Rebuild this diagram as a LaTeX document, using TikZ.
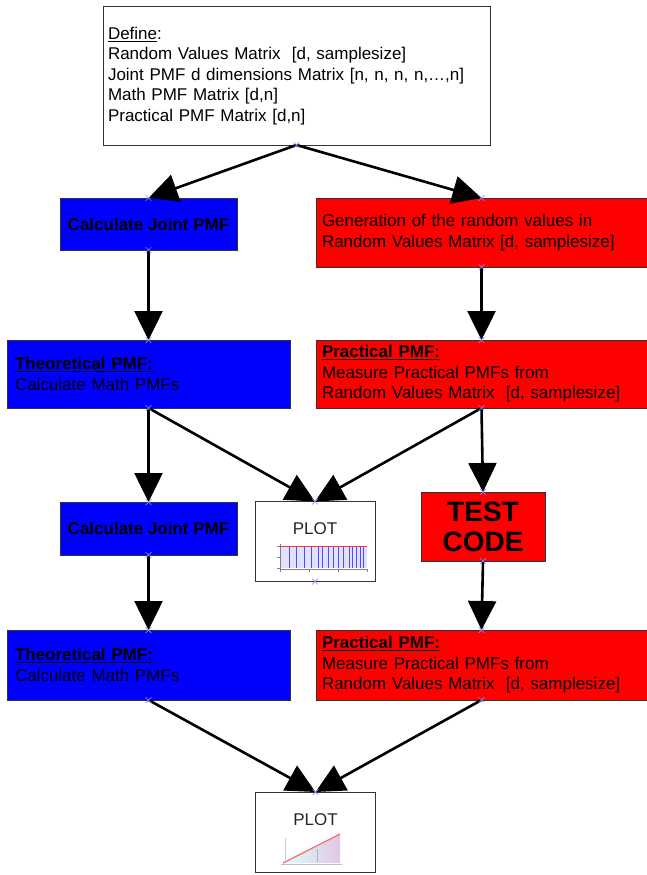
\documentclass[tikz,border=0pt]{standalone}
\usepackage{fontspec}
\setmainfont{Liberation Sans}
\usetikzlibrary{arrows.meta,shapes.misc}

\begin{document}
\begin{tikzpicture}[x=1pt, y=-1pt,
  box/.style={draw=black!80, line width=0.8pt, inner sep=0pt, outer sep=0pt, font=\fontsize{17}{20.5}\selectfont},
  bluebox/.style={box, fill=blue},
  redbox/.style={box, fill=red},
  plotbox/.style={box, fill=white, minimum width=120pt, minimum height=80pt},
  plotlabel/.style={inner sep=0pt, font=\fontsize{17}{20.5}\selectfont, text=black!85},
  flow/.style={line width=2.6pt, -{Triangle[width=28pt,length=29pt]}},
  cpt/.style={cross out, draw=blue!45, line width=0.7pt, minimum size=5pt, inner sep=0pt}]

  \useasboundingbox (0,0) rectangle (647,875);

  % -- Definitions --
  \node[box, line width=1pt, minimum width=387pt, minimum height=138pt, text width=377pt, align=left] (define) at (296.5,76)
    {\underline{Define}:\\ Random Values Matrix~ [d, samplesize]\\ Joint PMF d dimensions Matrix [n, n, n, n,\dots,n]\\ Math PMF Matrix [d,n]\\ Practical PMF Matrix [d,n]};

  % -- Math branch --
  \node[bluebox, minimum width=177pt, minimum height=52pt] (joint1) at (148.5,224) {\textbf{Calculate Joint PMF}};
  \node[bluebox, minimum width=283pt, minimum height=68pt, text width=267pt, align=left] (theo1) at (148.5,374)
    {\underline{\textbf{Theoretical PMF:}}\\ Calculate Math PMFs};
  \node[bluebox, minimum width=177pt, minimum height=53pt] (joint2) at (148.5,528.5) {\textbf{Calculate Joint PMF}};
  \node[bluebox, minimum width=283pt, minimum height=70pt, text width=267pt, align=left] (theo2) at (148.5,665)
    {\underline{\textbf{Theoretical PMF:}}\\ Calculate Math PMFs};

  % -- Practical branch --
  \node[redbox, minimum width=331pt, minimum height=69pt, text width=319pt, align=left] (gen) at (481.5,232.5)
    {Generation of the random values in\\ Random Values Matrix [d, samplesize]};
  \node[redbox, minimum width=331pt, minimum height=68pt, text width=319pt, align=left] (prac1) at (481.5,374)
    {\underline{\textbf{Practical PMF:}}\\ Measure Practical PMFs from\\ Random Values Matrix~ [d, samplesize]};
  \node[redbox, minimum width=124pt, minimum height=69pt, align=center, font=\fontsize{28}{30}\selectfont\bfseries] (test) at (483,526.5)
    {TEST\\ CODE};
  \node[redbox, minimum width=331pt, minimum height=70pt, text width=319pt, align=left] (prac2) at (481.5,665)
    {\underline{\textbf{Practical PMF:}}\\ Measure Practical PMFs from\\ Random Values Matrix~ [d, samplesize]};

  % -- Plots --
  \node[plotbox] (plot1) at (315,541.5) {};
  \node[plotlabel] (plot1lbl) at (315,529) {PLOT};
  \fill[blue!12] (280,546) rectangle (367,568);
  \foreach \vx in {289,296,304,311,318,322,328,333,338,343,349,352,356,360,363}
    \draw[blue!70, line width=0.4pt] (\vx,546) -- (\vx,568);
  \draw[red!80, line width=1.2pt] (280,546.5) -- (367,546.5);
  \draw[gray, line width=0.4pt] (280,544) -- (280,569) -- (368,569);
  \foreach \vy in {546,557,568}
    \draw[gray, line width=0.4pt] (277,\vy) -- (280,\vy);
  \foreach \vx in {280,309,338,367}
    \draw[gray, line width=0.4pt] (\vx,569) -- (\vx,572);

  \node[plotbox] (plot2) at (315.5,832) {};
  \node[plotlabel] (plot2lbl) at (315.5,820) {PLOT};
  \shade[left color=cyan!15, right color=violet!22] (283,863) -- (340,834) -- (340,863) -- cycle;
  \draw[gray!40, line width=0.5pt] (285,838) -- (285,860);
  \draw[gray!60, line width=0.4pt] (317,849) -- (317,862);
  \draw[red!60, line width=1.2pt] (283,863) -- (340,834);
  \draw[gray!50, line width=0.4pt] (281,864) -- (342,864);

  % -- Connectors --
  \draw[flow] (define.south) -- (joint1.north);
  \draw[flow] (define.south) -- (gen.north);
  \draw[flow] (joint1.south) -- (theo1.north);
  \draw[flow] (gen.south) -- (prac1.north);
  \draw[flow] (theo1.south) -- (joint2.north);
  \draw[flow] (theo1.south) -- (plot1.north);
  \draw[flow] (prac1.south) -- (plot1.north);
  \draw[flow] (prac1.south) -- (test.north);
  \draw[flow] (joint2.south) -- (theo2.north);
  \draw[flow] (test.south) -- (prac2.north);
  \draw[flow] (theo2.south) -- (plot2.north);
  \draw[flow] (prac2.south) -- (plot2.north);

  % -- Connection points --
  \foreach \p [count=\i] in {define.south, joint1.north, joint1.south, theo1.north, theo1.south,
      joint2.north, joint2.south, theo2.north, theo2.south, gen.north, gen.south, prac1.north,
      prac1.south, test.north, test.south, prac2.north, prac2.south, plot1.north, plot1.south, plot2.north}
    \node[cpt] (cp\i) at (\p) {};

\end{tikzpicture}
\end{document}
